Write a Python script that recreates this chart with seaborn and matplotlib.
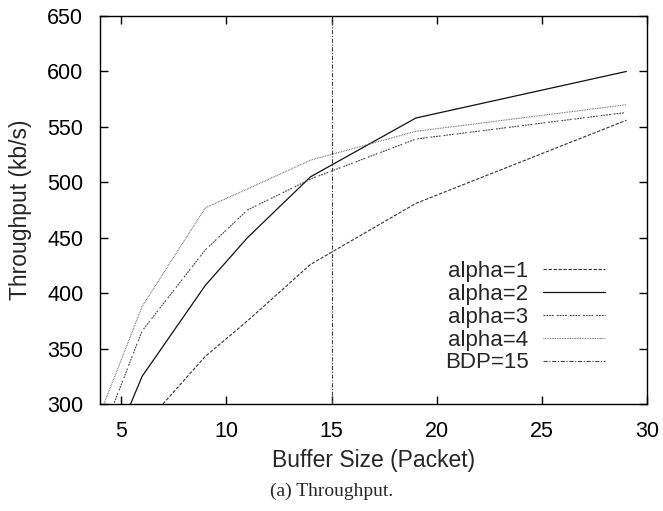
import matplotlib
matplotlib.use("Agg")
import matplotlib.pyplot as plt
import seaborn as sns
import pandas as pd

# ---- data ----
buffer_size = [4, 6, 9, 11, 14, 19, 29]
alpha1 = [236, 279, 343, 375, 426, 481, 556]
alpha2 = [234, 325, 407, 450, 505, 558, 600]
alpha3 = [268, 366, 439, 475, 503, 539, 563]
alpha4 = [291, 388, 477, 494, 520, 546, 570]
series_names = ["alpha=1", "alpha=2", "alpha=3", "alpha=4"]
bdp = 15
bdp_label = "BDP=15"
x_ticks = [5, 10, 15, 20, 25, 30]
y_ticks = [300, 350, 400, 450, 500, 550, 600, 650]

sns.set_theme(style="ticks")
plt.rcParams["font.family"] = ["Liberation Sans", "DejaVu Sans"]
plt.rcParams["lines.scale_dashes"] = False

fig = plt.figure(figsize=(6.63, 5.11), dpi=100)
ax = fig.add_axes([0.1508, 0.2092, 0.8258, 0.7595])

styles = {
    "alpha=1": dict(color="#333333", linestyle=(0, (2.4, 1.2)), lw=0.8),
    "alpha=2": dict(color="#111111", linestyle="-", lw=0.9),
    "alpha=3": dict(color="#444444", linestyle=(0, (1.3, 0.7, 1.3, 0.7, 1.3, 0.7, 1.3, 2.2)), lw=0.8),
    "alpha=4": dict(color="#666666", linestyle=(0, (0.6, 0.6)), lw=0.8),
}

values = [alpha1, alpha2, alpha3, alpha4]
for name, vals in zip(series_names, values):
    df = pd.DataFrame({"x": buffer_size, "y": vals})
    st = styles[name]
    sns.lineplot(data=df, x="x", y="y", ax=ax, color=st["color"],
                 linestyle=st["linestyle"], linewidth=st["lw"], label=name)

ax.axvline(bdp, color="#444444", linestyle=(0, (3.0, 1.2, 0.8, 1.2)), lw=0.8, label=bdp_label)

ax.set_xlim(4, 30)
ax.set_ylim(300, 650)
ax.set_xticks(x_ticks)
ax.set_yticks(y_ticks)
ax.tick_params(direction="in", length=6, width=1, top=True, right=True,
               labelsize=15.5, pad=12, color="black", labelcolor="black")
for s in ax.spines.values():
    s.set_linewidth(1.0)
    s.set_color("black")
ax.set_xlabel("Buffer Size (Packet)", fontsize=16.5, labelpad=5)
ax.set_ylabel("Throughput (kb/s)", fontsize=16.5, labelpad=11)

leg = ax.legend(loc="upper right", bbox_to_anchor=(0.922, 0.368), frameon=False,
                markerfirst=False, fontsize=16, handlelength=2.8,
                labelspacing=0.08, handletextpad=0.63, borderaxespad=0.0,
                borderpad=0.0)
for t in leg.get_texts():
    t.set_ha("right")
leg._legend_box.align = "right"

fig.text(0.5, 0.038, "(a) Throughput.", ha="center", va="center",
         fontsize=14, family=["Liberation Serif", "DejaVu Serif"])

fig.savefig("out.png", dpi=100)
